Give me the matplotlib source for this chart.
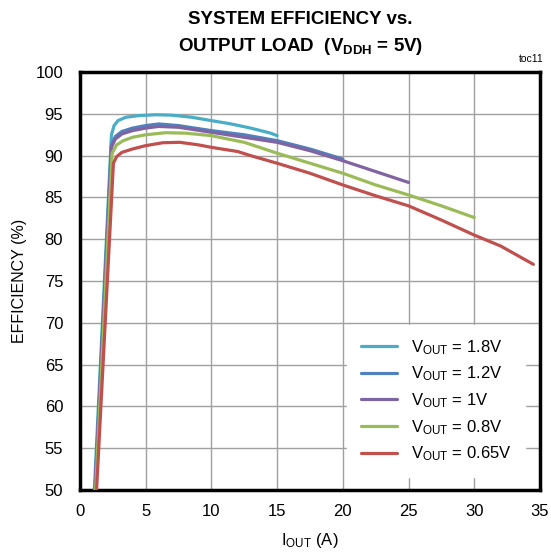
import matplotlib
matplotlib.use('agg')
import matplotlib.pyplot as plt

# efficiency curves (x = IOUT in A, y = efficiency in %)
x_18 = [1.1, 2.4, 2.6, 2.9, 3.5, 4.5, 5.8, 7.0, 8.5, 10.0, 11.5, 13.0, 14.5, 15.0]
y_18 = [50, 92.5, 93.6, 94.2, 94.6, 94.8, 94.9, 94.85, 94.6, 94.2, 93.8, 93.3, 92.7, 92.4]

x_12 = [1.15, 2.4, 2.7, 3.2, 4.0, 5.0, 6.0, 7.5, 10.0, 12.5, 15.0, 17.5, 20.0]
y_12 = [50, 91.3, 92.3, 92.9, 93.3, 93.6, 93.8, 93.6, 93.0, 92.5, 91.8, 90.8, 89.6]

x_10 = [1.15, 2.4, 2.7, 3.2, 4.0, 5.0, 6.0, 7.5, 10.0, 12.5, 15.0, 17.5, 20.0, 22.5, 25.0]
y_10 = [50, 91.0, 92.0, 92.6, 93.0, 93.3, 93.5, 93.4, 92.8, 92.2, 91.6, 90.6, 89.4, 88.1, 86.8]

x_08 = [1.2, 2.45, 2.8, 3.3, 4.0, 5.0, 6.5, 8.0, 10.0, 12.5, 15.0, 17.5, 20.0, 22.5, 25.0, 27.5, 30.0]
y_08 = [50, 90.3, 91.3, 91.8, 92.2, 92.5, 92.75, 92.7, 92.4, 91.6, 90.3, 89.1, 87.9, 86.5, 85.3, 84.0, 82.6]

x_065 = [1.27, 2.55, 2.8, 3.2, 4.0, 5.0, 6.3, 7.6, 9.0, 10.0, 12.0, 13.0, 15.0, 17.5,
         20.0, 22.5, 25.0, 27.5, 30.0, 32.0, 34.5]
y_065 = [50, 89.1, 89.9, 90.4, 90.8, 91.2, 91.55, 91.6, 91.3, 91.0, 90.5, 90.0, 89.1, 87.9,
         86.5, 85.2, 84.0, 82.3, 80.5, 79.2, 77.0]

labels = ['1.8V', '1.2V', '1V', '0.8V', '0.65V']
colors = ['#4BACC6', '#4F81BD', '#8064A2', '#9BBB59', '#C0504D']
xticks = [0, 5, 10, 15, 20, 25, 30, 35]
yticks = [50, 55, 60, 65, 70, 75, 80, 85, 90, 95, 100]

plt.rcParams['font.family'] = ['Liberation Sans', 'DejaVu Sans']
plt.rcParams['mathtext.default'] = 'regular'

fig = plt.figure(figsize=(5.51, 5.59), dpi=100)
ax = fig.add_axes([0.145, 0.1234, 0.835, 0.7476])

series = [(x_18, y_18), (x_12, y_12), (x_10, y_10), (x_08, y_08), (x_065, y_065)]
for (xs, ys), lab, c in zip(series, labels, colors):
    ax.plot(xs, ys, color=c, lw=2.3, solid_capstyle='round', solid_joinstyle='round',
            label='$V_{OUT}$ = ' + lab, zorder=3)

ax.set_xlim(0, 35)
ax.set_ylim(50, 100)
ax.set_xticks(xticks)
ax.set_yticks(yticks)
ax.grid(color='#a0a0a0', lw=1.0)
ax.set_axisbelow(True)
ax.tick_params(length=0, labelsize=12)
ax.tick_params(axis='y', pad=12)
ax.tick_params(axis='x', pad=10)
for s in ax.spines.values():
    s.set_linewidth(2.5)
    s.set_color('black')

ax.set_xlabel('$I_{OUT}$ (A)', fontsize=12, labelpad=9)
ax.set_ylabel('EFFICIENCY (%)', fontsize=11.5, labelpad=6)

leg = ax.legend(loc='lower right', bbox_to_anchor=(0.985, 0.012), frameon=True,
                fontsize=12, handlelength=2.2, handletextpad=0.8, labelspacing=0.48,
                borderpad=0.8)
leg.get_frame().set_edgecolor('white')
leg.get_frame().set_facecolor('white')
leg.get_frame().set_alpha(1)

fig.text(0.545, 0.966, 'SYSTEM EFFICIENCY vs.', ha='center', va='center',
         fontsize=13.5, fontweight='bold')
fig.text(0.545, 0.916, 'OUTPUT LOAD  ($V_{DDH}$ = 5V)', ha='center', va='center',
         fontsize=13.5, fontweight='bold')
fig.text(0.965, 0.895, 'toc11', ha='center', va='center', fontsize=7.5)

fig.savefig('out.png', dpi=100)
